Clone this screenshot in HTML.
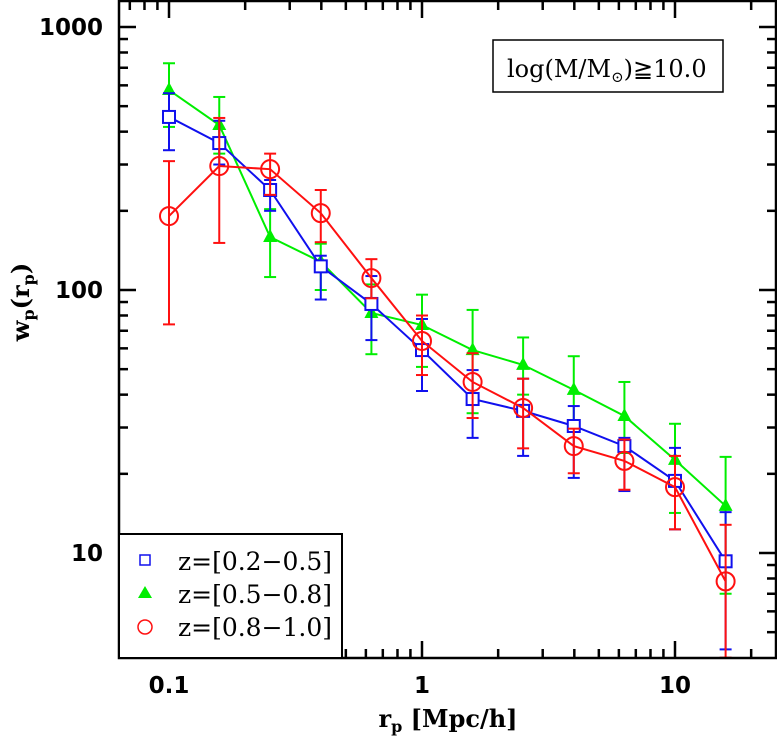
<!DOCTYPE html>
<html><head><meta charset="utf-8"><style>
body{margin:0;background:#fff}
svg{display:block;font-family:"DejaVu Serif","Liberation Serif",serif}
</style></head><body>
<svg id="chart" width="777" height="736" viewBox="0 0 777 736" xmlns="http://www.w3.org/2000/svg">
<g id="g"></g>
</svg>
<script>
const rp=[0.1,0.158,0.251,0.398,0.631,1,1.585,2.51,3.98,6.31,10,15.85];
const blueY=[455,362,240,123,88.5,59.1,38.5,34.7,30.4,25.5,18.8,9.3];
const blueHi=[560,440,262,135,113,77.6,49.6,46,36.2,27.4,25.1,14.3];
const blueLo=[340,300,200,92,64.5,41.3,27.4,23.4,19.3,17.2,12.3,4.3];
const greenY=[576,424,159,128,81.8,73.6,59.1,51.9,41.7,33.2,22.6,15.1];
const greenHi=[728,542,203,150,105,96,84,66,56,44.7,31,23.2];
const greenLo=[417,330,112,100,57,51,34,40,32,24,14.2,7.0];
const redY=[191,296,288,196,111,64,44.7,35.6,25.5,22.4,17.8,7.8];
const redHi=[309,451,330,240,131,80,57.5,46,29.7,27,23.4,12.8];
const redLo=[74,151,230,152,93,47.5,32.6,25,20.1,17.4,12.3,4];
const xTicks=[0.1,1,10];
const xTickLabels=["0.1","1","10"];
const yTicks=[10,100,1000];
const yTickLabels=["10","100","1000"];

const L=119,R=776,T=1,B=658;
const X=v=>422+253*Math.log10(v);
const Y=v=>27+263*(3-Math.log10(v));
const NS="http://www.w3.org/2000/svg";
const g=document.getElementById('g');
function el(tag,at,parent){const e=document.createElementNS(NS,tag);for(const k in at)e.setAttribute(k,at[k]);(parent||g).appendChild(e);return e;}

const ticks=el('g',{stroke:'#000','stroke-width':2.5});


for(let d=-2;d<=1;d++)for(let m=1;m<10;m++){const v=m*Math.pow(10,d);const x=X(v);if(x<L+1||x>R-1)continue;const len=m==1?17:9;
el('line',{x1:x,x2:x,y1:B,y2:B-len},ticks);el('line',{x1:x,x2:x,y1:T,y2:T+len},ticks);}
for(let d=0;d<=3;d++)for(let m=1;m<10;m++){const v=m*Math.pow(10,d);const y=Y(v);if(y<T+1||y>B-1)continue;const len=m==1?17:9;
el('line',{x1:L,x2:L+len,y1:y,y2:y},ticks);el('line',{x1:R,x2:R-len,y1:y,y2:y},ticks);}

xTicks.forEach((v,i)=>{const t=el('text',{x:X(v),y:693,'text-anchor':'middle','font-size':23,'font-weight':'bold','font-family':'"DejaVu Sans","Liberation Sans",sans-serif'});t.textContent=xTickLabels[i];

});
yTicks.forEach((v,i)=>{const t=el('text',{x:103,y:Y(v)+8,'text-anchor':'end','font-size':23,'font-weight':'bold','font-family':'"DejaVu Sans","Liberation Sans",sans-serif'});t.textContent=yTickLabels[i];

});

function series(ys,hi,lo,color,marker,name){
  const grp=el('g',{});
  
  
  rp.forEach((x,i)=>{const px=X(x),y1=Math.max(T,Math.min(B,Y(hi[i]))),y2=Math.max(T,Math.min(B,Y(lo[i])));
    el('line',{x1:px,x2:px,y1:y1,y2:y2,stroke:color,'stroke-width':2},grp);
    el('line',{x1:px-6,x2:px+6,y1:y1,y2:y1,stroke:color,'stroke-width':2},grp);
    if(Y(lo[i])<B)el('line',{x1:px-6,x2:px+6,y1:y2,y2:y2,stroke:color,'stroke-width':2},grp);});
  el('polyline',{points:rp.map((x,i)=>X(x)+','+Y(ys[i])).join(' '),fill:'none',stroke:color,'stroke-width':2},grp);
  rp.forEach((x,i)=>{const m=drawMarker(X(x),Y(ys[i]),color,marker,grp);
    
    });
}
function drawMarker(x,y,color,marker,grp){
  if(marker=='sq')return el('rect',{x:x-6,y:y-6,width:12,height:12,fill:'#fff',stroke:color,'stroke-width':2},grp);
  if(marker=='tri')return el('polygon',{points:`${x},${y-8} ${x-7},${y+5} ${x+7},${y+5}`,fill:color},grp);
  return el('circle',{cx:x,cy:y,r:9,fill:'none',stroke:color,'stroke-width':2},grp);
}
series(greenY,greenHi,greenLo,'#00ee00','tri','series-z05-08');
series(blueY,blueHi,blueLo,'#1010ee','sq','series-z02-05');
series(redY,redHi,redLo,'#ff1010','circ','series-z08-10');

const fr=el('rect',{x:L,y:T,width:R-L,height:B-T,fill:'none',stroke:'#000','stroke-width':2.5});



const lg=el('g',{});


el('rect',{x:L,y:534,width:223,height:124,fill:'#fff',stroke:'#000','stroke-width':2},lg);
const entries=[['sq','#1010ee','z=[0.2−0.5]'],['tri','#00ee00','z=[0.5−0.8]'],['circ','#ff1010','z=[0.8−1.0]']];
entries.forEach((e,i)=>{const y=560+33*i;const ge=el('g',{},lg);
  
  
  if(e[0]=='sq')el('rect',{x:140,y:y-5,width:10,height:10,fill:'none',stroke:e[1],'stroke-width':1.5},ge);
  else if(e[0]=='tri')el('polygon',{points:`145,${y-7} 138,${y+5} 152,${y+5}`,fill:e[1]},ge);
  else el('circle',{cx:145,cy:y+1,r:7,fill:'none',stroke:e[1],'stroke-width':1.5},ge);
  const t=el('text',{x:178,y:y+10,'font-size':25,textLength:154,lengthAdjust:'spacingAndGlyphs'},ge);t.textContent=e[2];});

const an=el('g',{});


el('rect',{x:493,y:40,width:230,height:52,fill:'#fff',stroke:'#000','stroke-width':1.5},an);
const at=el('text',{x:507,y:77,'font-size':24},an);
at.innerHTML='log(M/M<tspan font-size="15" dy="5">⊙</tspan><tspan dy="-5">)≧10.0</tspan>';

const xt=el('text',{x:448,y:727,'text-anchor':'middle','font-size':24,'font-weight':'bold'});
xt.innerHTML='r<tspan font-size="16" dy="5">p</tspan><tspan dy="-5"> [Mpc/h]</tspan>';


const yt=el('text',{x:0,y:0,'text-anchor':'middle','font-size':24,'font-weight':'bold',transform:'translate(29,302) rotate(-90)'});
yt.innerHTML='w<tspan font-size="16" dy="5">p</tspan><tspan dy="-5">(r</tspan><tspan font-size="16" dy="5">p</tspan><tspan dy="-5">)</tspan>';


</script>
</body></html>
